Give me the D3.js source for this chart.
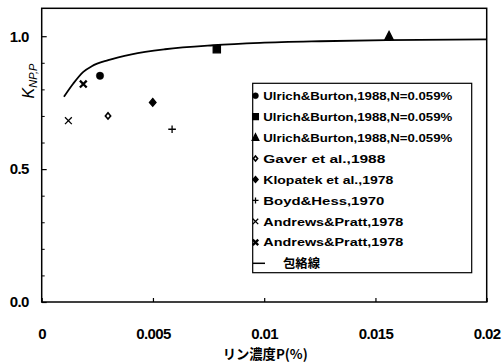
<!DOCTYPE html>
<html>
<head>
<meta charset="utf-8">
<script src="https://cdn.jsdelivr.net/npm/d3@7/dist/d3.min.js"></script>
<style>
  html, body { margin: 0; padding: 0; background: #fff; }
  svg { display: block; }
</style>
</head>
<body>
<svg id="chart" width="504" height="362"></svg>
<script>
// Measured points: phosphorus concentration P (%) vs K_NP,P
const ulrichCircle = [[0.00262, 0.851]];
const ulrichSquare = [[0.00787, 0.951]];
const ulrichTriangle = [[0.01561, 1.0]];
const gaver = [[0.00298, 0.700]];
const klopatek = [[0.00499, 0.751]];
const boydHess = [[0.00586, 0.650]];
const andrewsA = [[0.00120, 0.682]];
const andrewsB = [[0.00187, 0.820]];

// Envelope curve (包絡線)
const envelope = [
  [0.00100, 0.772], [0.00142, 0.822], [0.00187, 0.866], [0.00225, 0.887],
  [0.00299, 0.910], [0.00404, 0.932], [0.00554, 0.951], [0.00770, 0.966],
  [0.00981, 0.975], [0.01250, 0.981], [0.01550, 0.985], [0.02000, 0.988]
];

const xTicks = [0, 0.005, 0.01, 0.015, 0.02];
const xTickLabels = ["0", "0.005", "0.01", "0.015", "0.02"];
const yTicks = [0, 0.5, 1.0];
const yTickLabels = ["0.0", "0.5", "1.0"];
const yMinorTicks = [0.1, 0.2, 0.3, 0.4, 0.6, 0.7, 0.8, 0.9];

const seriesLabels = [
  "Ulrich&Burton,1988,N=0.059%",
  "Ulrich&Burton,1988,N=0.059%",
  "Ulrich&Burton,1988,N=0.059%",
  "Gaver et al.,1988",
  "Klopatek et al.,1978",
  "Boyd&Hess,1970",
  "Andrews&Pratt,1978",
  "Andrews&Pratt,1978",
  "包絡線"
];
const xTitle = "リン濃度P(%)";

const svg = d3.select("#chart");
const plotLeft = 41.7, plotRight = 486.7, plotTop = 8.3, plotBottom = 302;

const x = d3.scaleLinear().domain([0, 0.02]).range([plotLeft, plotRight]);
const y = d3.scaleLinear().domain([0, 1.105]).range([plotBottom, plotTop]);

const tickFont = "'Liberation Sans', Arial, sans-serif";

// Marker path generators (centered at 0,0, scale s)
function markerPath(type, s) {
  const p = d3.path();
  if (type === "circle") {
    p.arc(0, 0, 3.7 * s, 0, 2 * Math.PI);
  } else if (type === "square") {
    const h = 3.6 * s;
    p.rect(-h, -h, 2 * h, 2 * h);
  } else if (type === "triangle") {
    const h = 4.6 * s;
    p.moveTo(0, -h * 1.05); p.lineTo(h * 0.9, h * 0.75); p.lineTo(-h * 0.9, h * 0.75); p.closePath();
  } else if (type === "diamond" || type === "odiamond") {
    const h = (type === "diamond" ? 3.9 : 3.1) * s;
    p.moveTo(0, -h); p.lineTo(h * 0.85, 0); p.lineTo(0, h); p.lineTo(-h * 0.85, 0); p.closePath();
  } else if (type === "plus") {
    const h = 3.8 * s;
    p.moveTo(-h, 0); p.lineTo(h, 0); p.moveTo(0, -h); p.lineTo(0, h);
  } else if (type === "cross" || type === "bcross") {
    const h = 3.4 * s;
    p.moveTo(-h, -h); p.lineTo(h, h); p.moveTo(h, -h); p.lineTo(-h, h);
  }
  return p.toString();
}
function markerStyle(sel, type) {
  const filled = ["circle", "square", "triangle", "diamond"].includes(type);
  sel.attr("fill", filled ? "#000" : (type === "odiamond" ? "#fff" : "none"))
     .attr("stroke", "#000")
     .attr("stroke-width", type === "bcross" ? 2.3 : (type === "odiamond" ? 1.6 : (type === "circle" ? 0.5 : 1.3)));
}

const seriesList = [
  { data: ulrichCircle, type: "circle" },
  { data: ulrichSquare, type: "square" },
  { data: ulrichTriangle, type: "triangle" },
  { data: gaver, type: "odiamond" },
  { data: klopatek, type: "diamond" },
  { data: boydHess, type: "plus" },
  { data: andrewsA, type: "cross" },
  { data: andrewsB, type: "bcross" }
];

// Plot frame
svg.append("rect")
  .attr("x", plotLeft).attr("y", plotTop)
  .attr("width", plotRight - plotLeft).attr("height", plotBottom - plotTop)
  .attr("fill", "none").attr("stroke", "#000").attr("stroke-width", 1.5);

// X axis
const xAxis = d3.axisBottom(x).tickValues(xTicks)
  .tickFormat((d, i) => xTickLabels[i])
  .tickSizeInner(-4).tickSizeOuter(0).tickPadding(26);
const gx = svg.append("g").attr("transform", `translate(0,${plotBottom})`).call(xAxis);
gx.select(".domain").remove();
gx.selectAll(".tick line").attr("stroke", "#000").attr("stroke-width", 1.2);
gx.selectAll(".tick text")
  .attr("font-family", tickFont).attr("font-size", 15).attr("font-weight", "bold")
  .attr("letter-spacing", -0.6).attr("fill", "#000");

// Y axis (major)
const yAxis = d3.axisLeft(y).tickValues(yTicks)
  .tickFormat((d, i) => yTickLabels[i])
  .tickSizeInner(-5).tickSizeOuter(0).tickPadding(13);
const gy = svg.append("g").attr("transform", `translate(${plotLeft},0)`).call(yAxis);
gy.select(".domain").remove();
gy.selectAll(".tick line").attr("stroke", "#000").attr("stroke-width", 1.2);
gy.selectAll(".tick text")
  .attr("font-family", tickFont).attr("font-size", 15).attr("font-weight", "bold")
  .attr("letter-spacing", -0.6).attr("fill", "#000");

// Y axis (minor)
const yMinor = d3.axisLeft(y).tickValues(yMinorTicks).tickFormat("")
  .tickSizeInner(-3).tickSizeOuter(0);
const gym = svg.append("g").attr("transform", `translate(${plotLeft},0)`).call(yMinor);
gym.select(".domain").remove();
gym.selectAll(".tick line").attr("stroke", "#000").attr("stroke-width", 1);

// Envelope line
const line = d3.line().x(d => x(d[0])).y(d => y(d[1])).curve(d3.curveMonotoneX);
svg.append("path").datum(envelope)
  .attr("d", line).attr("fill", "none")
  .attr("stroke", "#000").attr("stroke-width", 1.8);

// Scatter markers
seriesList.forEach(s => {
  svg.append("g").selectAll("path").data(s.data).join("path")
    .attr("transform", d => `translate(${x(d[0])},${y(d[1])})`)
    .attr("d", markerPath(s.type, 1))
    .call(markerStyle, s.type);
});

// Legend
const lg = svg.append("g");
const lgLeft = 252.7, lgTop = 83.3, lgRight = 471.7, lgBottom = 272.7;
lg.append("rect")
  .attr("x", lgLeft).attr("y", lgTop)
  .attr("width", lgRight - lgLeft).attr("height", lgBottom - lgTop)
  .attr("fill", "#fff").attr("stroke", "#000").attr("stroke-width", 1.2);

const rowY0 = 95.7, rowStep = 20.95;
const legendWidths = [189, 189, 189, 122, 130, 121, 140, 140, 37];
seriesLabels.forEach((label, i) => {
  const ry = rowY0 + i * rowStep;
  if (i < seriesList.length) {
    const t = seriesList[i].type;
    lg.append("path")
      .attr("transform", `translate(255.5,${ry})`)
      .attr("d", markerPath(t, 0.8))
      .call(markerStyle, t);
    lg.append("text")
      .attr("x", 263.3).attr("y", ry).attr("dy", "0.36em")
      .attr("font-family", tickFont).attr("font-size", 11.5).attr("font-weight", "bold")
      .attr("textLength", legendWidths[i]).attr("lengthAdjust", "spacingAndGlyphs")
      .attr("fill", "#000")
      .text(label);
  } else {
    lg.append("line")
      .attr("x1", 253).attr("x2", 265).attr("y1", ry).attr("y2", ry)
      .attr("stroke", "#000").attr("stroke-width", 1.5);
    lg.append("text")
      .attr("x", 283).attr("y", ry).attr("dy", "0.38em")
      .attr("font-family", "'Noto Sans CJK JP', sans-serif").attr("font-size", 12.5)
      .attr("font-weight", "bold")
      .attr("textLength", legendWidths[i]).attr("lengthAdjust", "spacingAndGlyphs")
      .attr("fill", "#000")
      .text(label);
  }
});

// Axis titles
svg.append("text")
  .attr("x", (plotLeft + plotRight) / 2 + 1).attr("y", 359).attr("text-anchor", "middle")
  .attr("font-family", "'Noto Sans CJK JP', sans-serif").attr("font-size", 13.5)
  .attr("font-weight", "bold")
  .attr("textLength", 85).attr("lengthAdjust", "spacingAndGlyphs")
  .attr("fill", "#000")
  .text(xTitle);

const yt = svg.append("text")
  .attr("transform", "translate(34,81) rotate(-90)")
  .attr("text-anchor", "middle")
  .attr("font-family", tickFont).attr("font-style", "italic")
  .attr("fill", "#000");
yt.append("tspan").attr("font-size", 16).text("K");
yt.append("tspan").attr("font-size", 11).attr("dy", 3).text("NP,P");
</script>
</body>
</html>
